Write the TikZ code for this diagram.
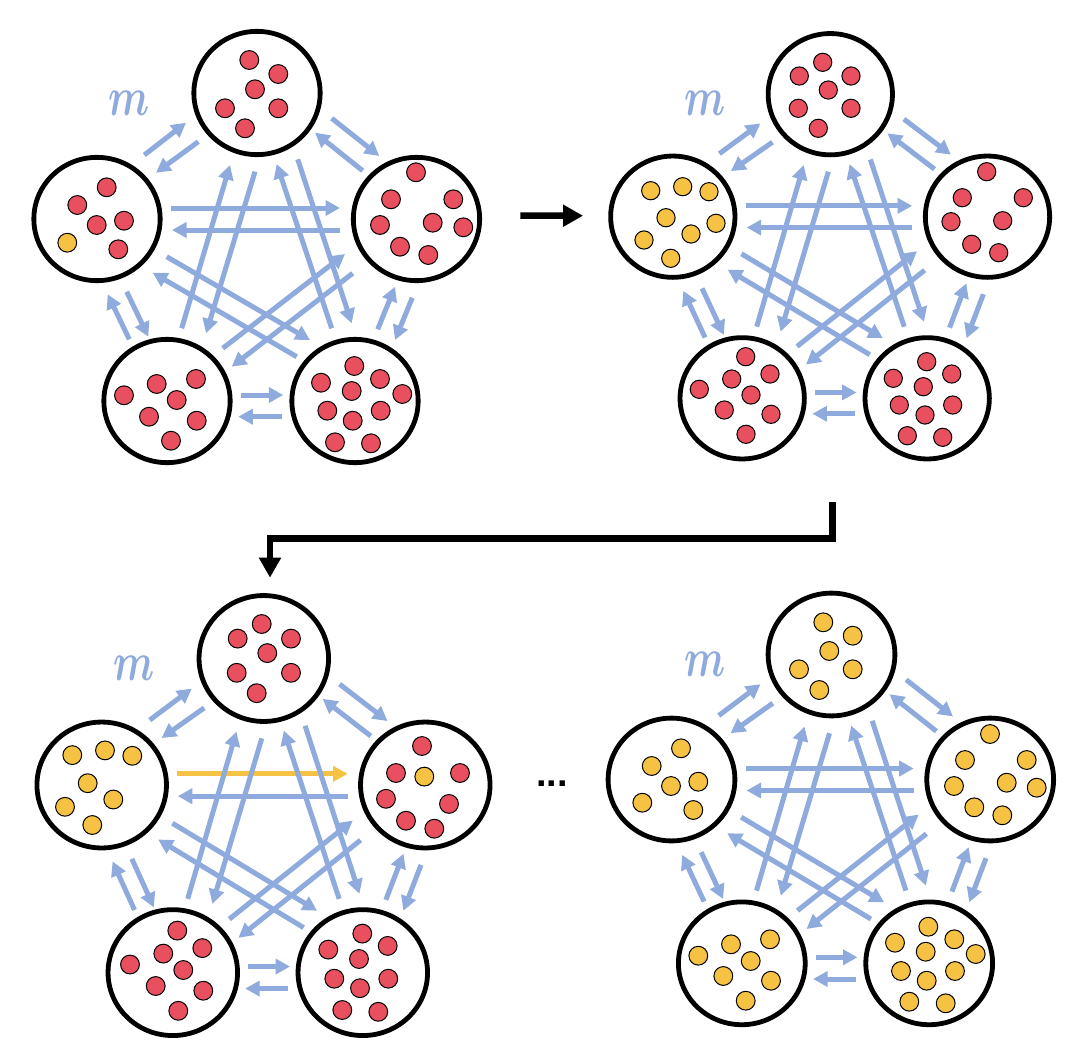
\documentclass[tikz,border=0pt]{standalone}
\usepackage{fontspec}
\usepackage{graphicx}
\usepackage{bm}
\usetikzlibrary{arrows.meta,calc,shapes.geometric}
\newfontfamily\dotsfont{Liberation Sans}
\definecolor{arrblue}{HTML}{8FAADC}
\definecolor{dotred}{HTML}{E9505F}
\definecolor{dotyel}{HTML}{F6C244}
\tikzset{
  ring/.style={ellipse,draw=black,line width=4.8bp,inner sep=0pt,outer sep=0pt,fill=white},
  bluearr/.style={draw=arrblue,line width=5bp,-{Triangle[length=14.5bp,width=15bp]}},
  blkarr/.style={draw=black,line width=6.5bp,-{Triangle[length=20bp,width=21bp]},line join=miter},
  rdot/.style={draw=black,line width=1bp,fill=dotred},
  ydot/.style={draw=black,line width=1bp,fill=dotyel},
  mlabel/.style={text=arrblue,inner sep=0pt},
}
% #1 prefix, #2 width, #3 height, #4..#8 centres T L R BL BR
\newcommand{\pentanodes}[8]{%
  \node[ring,minimum width=#2bp,minimum height=#3bp] (#1T) at (#4) {};
  \node[ring,minimum width=#2bp,minimum height=#3bp] (#1L) at (#5) {};
  \node[ring,minimum width=#2bp,minimum height=#3bp] (#1R) at (#6) {};
  \node[ring,minimum width=#2bp,minimum height=#3bp] (#1BL) at (#7) {};
  \node[ring,minimum width=#2bp,minimum height=#3bp] (#1BR) at (#8) {};
}
% #1 prefix, #2 scale, #3 id of highlighted arrow
\newcommand{\pentarrows}[3]{%
  \foreach \id/\a/\ax/\ay/\b/\bx/\by in {
    1/L/47.3/-64/T/-71/29.7,
    2/T/-58.7/48.7/L/59/-46.3,
    3/T/74.7/25.3/R/-37.2/-63,
    4/R/-53.8/-48.3/T/58/39.7,
    5/L/74/-11/R/-76.5/-11,
    6/R/-76.5/11/L/75/11,
    7/L/69.7/37.7/BR/-45/-61,
    8/BR/-58.3/-44.3/L/55.7/53.7,
    9/R/-63.8/54.3/BL/64.7/-34.3,
    10/BL/55.7/-52.7/R/-71.5/35,
    11/T/-2/78.7/BL/39/-67.7,
    12/BL/14.7/-72.7/T/-27/72,
    13/T/40.7/66.3/BR/-3.3/-77.7,
    14/BR/-23.3/-72.7/T/19.7/71,
    15/L/29.7/72.7/BL/-18.7/-64.3,
    16/BL/-37.7/-61.7/L/10.7/75.3,
    17/BL/73.7/-6/BR/-71.7/-6,
    18/BR/-73.3/15.7/BL/71.3/15.7,
    19/BR/22.7/-71.7/R/-21.5/67.7,
    20/R/-4.2/78.7/BR/40/-61}{%
    \ifnum\id=#3\relax\def\arrcol{dotyel}\else\def\arrcol{arrblue}\fi
    \draw[bluearr,draw=\arrcol] ($(#1\a)+(#2*\ax,#2*\ay)$) -- ($(#1\b)+(#2*\bx,#2*\by)$);
  }%
}
\newcommand{\dotset}[3]{\foreach \px/\py in {#3} {\draw[#1] (\px,\py) circle[radius=#2bp];}}
\newcommand{\mlab}{\scalebox{4.0}[5.5]{$\bm{m}$}}
\begin{document}
\begin{tikzpicture}[x=1bp,y=-1bp]
\useasboundingbox (0,0) rectangle (1090,1058);
% ---------- panel 1
\pentanodes{p1}{126.3}{123.3}{257,93}{97,219}{416.5,219}{167,401}{355,401}
\pentarrows{p1}{1}{0}
\dotset{rdot}{9.4}{249.3/60, 278.3/74, 255/89.3, 225/108.3, 278.3/108.3, 245/128.3}
\dotset{rdot}{9.4}{106.7/187.3, 77.3/205, 96.7/225, 124/220.7, 118.3/249.3}
\dotset{ydot}{9.4}{67.3/242.7}
\dotset{rdot}{9.4}{416/172.3, 391/199.3, 453.3/199.3, 380/225, 432.7/222.7, 463.3/227.3, 400/246.7, 428.3/255}
\dotset{rdot}{9.4}{156.7/384, 196/379, 124/395.3, 176.7/400, 149/416.7, 196.7/420.7, 171/440.7}
\dotset{rdot}{9.4}{354.3/366, 321/382.7, 380/379, 351.7/391, 402.3/394, 327.3/410.7, 380.7/410.7, 352.7/420.7, 335/442.3, 371/443.3}
\node[mlabel] (m1) at (129,103) {\mlab};
% ---------- panel 2
\pentanodes{p2}{124.3}{121.3}{830.3,94.2}{672.8,216.7}{987.5,216.7}{742.2,398.3}{927.2,398.3}
\pentarrows{p2}{0.985}{0}
\dotset{rdot}{9.1}{822.7/62.3, 799.3/76, 851/76, 828.3/90, 798.3/108.3, 851/108.3, 818.3/128.3}
\dotset{ydot}{9.1}{650.7/190.7, 682.7/186.7, 709/191.7, 666/217.7, 716/223.3, 644/240, 691/234, 670.7/258.3}
\dotset{rdot}{9.1}{986.7/171.7, 962.3/197.7, 1023.3/197.7, 951/221.7, 1002.7/220.7, 971.7/244.3, 998.7/252.7}
\dotset{rdot}{9.1}{745.7/356.7, 731.7/379, 770/374, 699.3/389.3, 751/395, 724.3/410, 771/414.3, 746/434.3}
\dotset{rdot}{9.1}{926.7/361.7, 893.3/378.3, 951.7/374, 923.3/386.7, 899.3/405, 952.7/405, 925/415, 907.3/435.7, 942.7/437.3}
\node[mlabel] (m2) at (705,103) {\mlab};
% ---------- panel 3
\pentanodes{p3}{129.5}{125.9}{263.8,658.5}{101.7,785}{425.3,785}{172.8,972.6}{362.8,972.6}
\pentarrows{p3}{1.015}{5}
\dotset{rdot}{9.4}{261.7/624, 237.7/638.6, 291/638.6, 267.3/653.1, 236.7/672.8, 291/672.8, 256.7/693.2}
\dotset{ydot}{9.4}{72.3/755.1, 105/750.4, 132.3/755.8, 87.7/783.2, 113.3/799.5, 65/806.8, 92.3/825}
\dotset{rdot}{9.4}{422/746, 396/773, 460/773, 386/798.8, 449/803.9, 406/820.7, 434.3/828.7}
\dotset{ydot}{9.4}{424.3/776.6}
\dotset{rdot}{9.4}{177.3/930.6, 163.3/953.6, 202.3/948.1, 130/964.5, 183.3/970, 155.7/986, 203.3/990.7, 178.3/1010.8}
\dotset{rdot}{9.4}{362.3/933.6, 328.3/949.6, 387.7/945.9, 359/959, 334.3/978.7, 388.3/978.7, 360/988.2, 342.3/1010, 378.3/1011.8}
\node[mlabel] (m3) at (134.5,668.5) {\mlab};
% ---------- panel 4
\pentanodes{p4}{126.8}{122.8}{831.5,654.5}{671.5,779.5}{990.2,779.5}{741.8,963.3}{929.2,963.3}
\pentarrows{p4}{1}{0}
\dotset{ydot}{9.4}{823.3/622.3, 852.7/635.7, 829.3/651, 799/669.3, 852.7/669.3, 819.3/690}
\dotset{ydot}{9.4}{681/748.3, 651.7/766, 671/786, 698.3/781.7, 642.3/802.7, 693.3/810}
\dotset{ydot}{9.4}{990/734, 965/760, 1026.7/760, 954/786, 1006.7/782.7, 1036.7/787.7, 974.3/807.3, 1002.3/815.3}
\dotset{ydot}{9.4}{731/944.3, 770/939.3, 698.3/955.7, 750.7/961, 723.3/976, 771/980.7, 745.7/1000.7}
\dotset{ydot}{9.4}{928.3/926.7, 895/942.7, 954.3/939.3, 925.7/951.7, 975.7/954, 901/971, 955/971, 926.7/980.7, 909.3/1001.7, 945.7/1003.3}
\node[mlabel] (m4) at (705,664) {\mlab};
% ---------- black connectors
\draw[blkarr] ($(p1R.east)+(40.7,-3.3)$) -- ($(p2L.west)+(-27.6,-1)$);
\coordinate (elbowstart) at (832.3,502.3);
\draw[blkarr] (elbowstart) -- ++(0,36.2) -| ($(p3T.north)+(6.2,-17.85)$);
% ---------- ellipsis
\node[inner sep=0pt,anchor=base,font=\dotsfont\bfseries\fontsize{38}{38}\selectfont] (gapdots) at (552,786.7) {...};
\end{tikzpicture}
\end{document}
